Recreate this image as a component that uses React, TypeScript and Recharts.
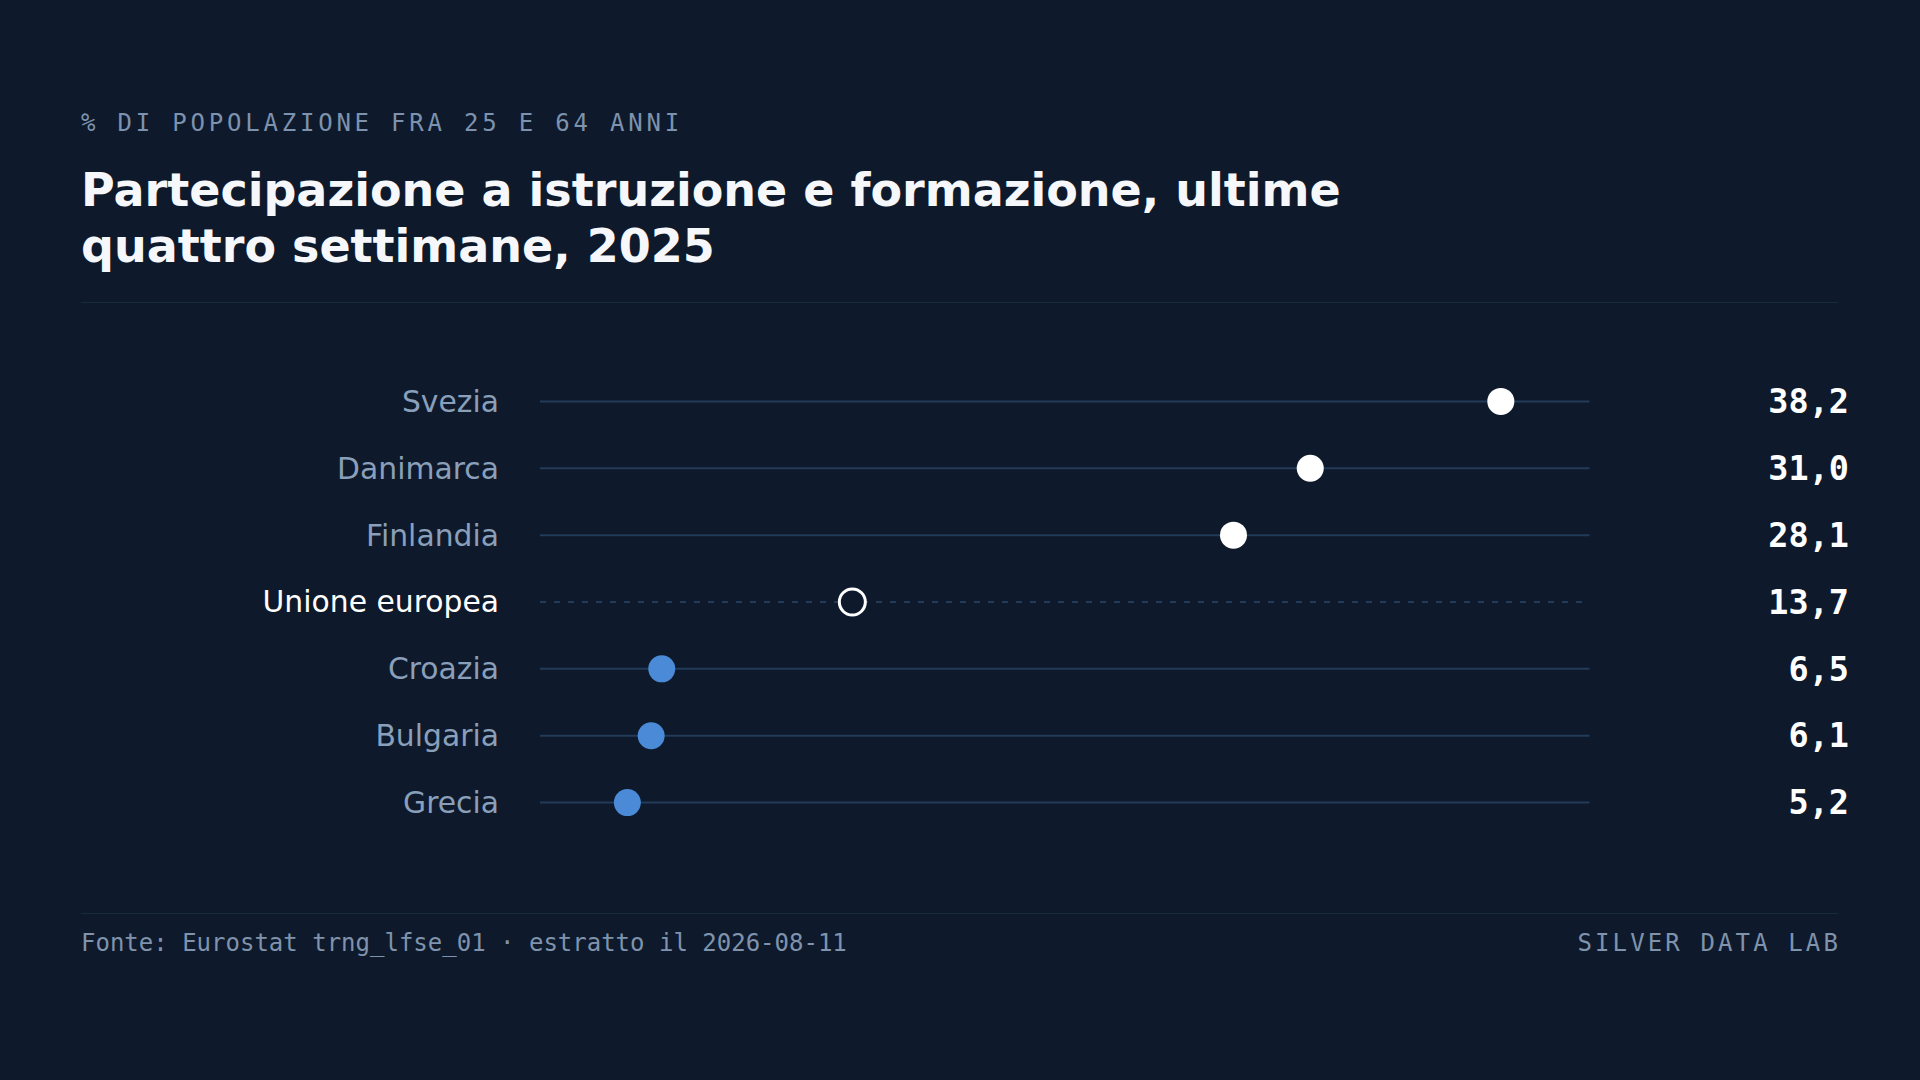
import React from 'react';
import { ComposedChart, Scatter, XAxis, YAxis, ReferenceLine } from 'recharts';

// data
const countries = ['Svezia', 'Danimarca', 'Finlandia', 'Unione europea', 'Croazia', 'Bulgaria', 'Grecia'];
const values = [38.2, 31.0, 28.1, 13.7, 6.5, 6.1, 5.2];
const groups = ['top', 'top', 'top', 'eu', 'bottom', 'bottom', 'bottom'];

const rows = countries.map((name, i) => ({ name, value: values[i], group: groups[i] }));

const bg = '#0e1a2b';
const muted = '#8a9fba';
const trackColor = '#223b58';
const blue = '#4a8ad6';
const mono = '"DejaVu Sans Mono", monospace';
const sans = '"DejaVu Sans", sans-serif';

const fmt = (v: number) => v.toFixed(1).replace('.', ',');

const Dot = (props: any) => {
    const { cx, cy, payload } = props;
    if (cx == null || cy == null) return null;
    if (payload.group === 'eu') {
        return <circle cx={cx} cy={cy} r={13} fill={bg} stroke="#ffffff" strokeWidth={3} />;
    }
    return <circle cx={cx} cy={cy} r={13.5} fill={payload.group === 'top' ? '#ffffff' : blue} />;
};

const LeftTick = (props: any) => {
    const { x, y, payload } = props;
    const isEu = payload.value === 'Unione europea';
    return (
        <text x={x} y={y} dy="0.35em" textAnchor="end" fontFamily={sans} fontSize={29.8} fill={isEu ? '#ffffff' : muted}>
            {payload.value}
        </text>
    );
};

const RightTick = (props: any) => {
    const { x, y, payload } = props;
    const row = rows.find((r) => r.name === payload.value);
    return (
        <text x={x} y={y} dy="0.35em" textAnchor="end" fontFamily={mono} fontWeight="bold" fontSize={33.5} fill="#ffffff">
            {row ? fmt(row.value) : ''}
        </text>
    );
};

const rowPad = { top: 33.4, bottom: 33.4 };

const App: React.FC = () => {
    return (
        <div style={{ position: 'absolute', left: 0, top: 0, width: 1920, height: 1080, background: bg, overflow: 'hidden' }}>
            <div
                style={{
                    position: 'absolute', left: 81, top: 111, fontFamily: mono, fontSize: 24, lineHeight: '24px',
                    letterSpacing: '0.158em', color: '#7d92ae', whiteSpace: 'nowrap',
                }}
            >
                % DI POPOLAZIONE FRA 25 E 64 ANNI
            </div>
            <div
                style={{
                    position: 'absolute', left: 81, top: 162, width: 1300, fontFamily: sans, fontWeight: 'bold',
                    fontSize: 46, lineHeight: '56px', color: '#f5f7fa',
                }}
            >
                Partecipazione a istruzione e formazione, ultime quattro settimane, 2025
            </div>
            <div style={{ position: 'absolute', left: 81, top: 302, width: 1757, height: 1, background: '#1a2a3d' }} />

            <div style={{ position: 'absolute', left: 0, top: 368 }}>
                <ComposedChart
                    layout="vertical"
                    width={1920}
                    height={468}
                    data={rows}
                    margin={{ top: 0, right: 0, bottom: 0, left: 0 }}
                >
                    <XAxis type="number" dataKey="value" domain={[1.9, 41.55]} allowDataOverflow hide />
                    <YAxis
                        yAxisId="left"
                        type="category"
                        dataKey="name"
                        width={540}
                        padding={rowPad}
                        axisLine={false}
                        tickLine={false}
                        tickSize={0}
                        tickMargin={41}
                        interval={0}
                        tick={<LeftTick />}
                    />
                    <YAxis
                        yAxisId="right"
                        orientation="right"
                        type="category"
                        dataKey="name"
                        width={330.5}
                        padding={rowPad}
                        axisLine={false}
                        tickLine={false}
                        tickSize={0}
                        tickMargin={259.5}
                        interval={0}
                        tick={<RightTick />}
                    />
                    {rows.map((r) => (
                        <ReferenceLine
                            key={r.name}
                            yAxisId="left"
                            y={r.name}
                            stroke={trackColor}
                            strokeWidth={2}
                            strokeDasharray={r.group === 'eu' ? '6 8' : undefined}
                        />
                    ))}
                    <Scatter yAxisId="left" dataKey="value" data={rows} shape={<Dot />} isAnimationActive={false} />
                </ComposedChart>
            </div>

            <div style={{ position: 'absolute', left: 81, top: 913, width: 1757, height: 1, background: '#1a2a3d' }} />
            <div
                style={{
                    position: 'absolute', left: 81, top: 931, fontFamily: mono, fontSize: 24, lineHeight: '24px',
                    color: '#7f93ad', whiteSpace: 'nowrap',
                }}
            >
                Fonte: Eurostat trng_lfse_01 · estratto il 2026-08-11
            </div>
            <div
                style={{
                    position: 'absolute', right: 1920 - 1841, top: 931, fontFamily: mono, fontSize: 24, lineHeight: '24px',
                    letterSpacing: '0.13em', color: '#7f93ad', whiteSpace: 'nowrap',
                }}
            >
                SILVER DATA LAB
            </div>
        </div>
    );
};

export default App;
